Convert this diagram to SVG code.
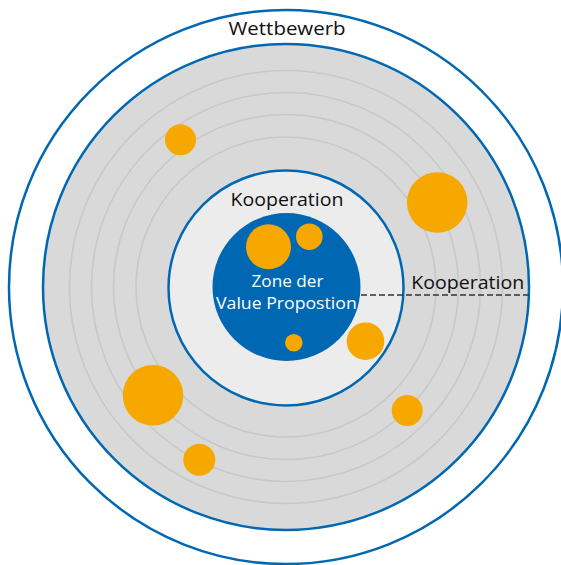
<svg xmlns="http://www.w3.org/2000/svg" width="561" height="565" viewBox="0 0 561 565">
<style>
.ring{fill:none;stroke:#c8c8c8;stroke-width:1.6}
.blue{stroke:#0068b3;stroke-width:2.5}
.dot{fill:#f6a800}
.lbl{font-family:"Open Sans","DejaVu Sans","Liberation Sans",sans-serif;font-weight:500;font-size:18px;fill:#111}
.wlbl{font-family:"Open Sans","DejaVu Sans","Liberation Sans",sans-serif;font-weight:500;font-size:17px;fill:#fff}
</style>
<rect width="561" height="565" fill="#fff"/>
<g id="wettbewerb">
<circle cx="286" cy="287" r="277" fill="#fff" class="blue"/>
<text class="lbl" x="287" y="34.5" text-anchor="middle" textLength="117" lengthAdjust="spacingAndGlyphs">Wettbewerb</text>
</g>
<g id="markt">
<circle cx="286" cy="287" r="243" fill="#d9d9d9" class="blue"/>
<circle cx="286" cy="287" r="216.5" class="ring"/>
<circle cx="286" cy="287" r="194.5" class="ring"/>
<circle cx="286" cy="287" r="172.5" class="ring"/>
<circle cx="286" cy="287" r="150" class="ring"/>
</g>
<g id="kooperation">
<circle cx="286" cy="288" r="117.5" fill="#ececec" class="blue"/>
<text class="lbl" x="287" y="206" text-anchor="middle" textLength="113" lengthAdjust="spacingAndGlyphs">Kooperation</text>
</g>
<g id="zone">
<circle cx="286.5" cy="287" r="74" fill="#0068b3"/>
<text class="wlbl" x="287.5" y="286.7" text-anchor="middle" textLength="72" lengthAdjust="spacingAndGlyphs">Zone der</text>
<text class="wlbl" x="286.4" y="309.3" text-anchor="middle" textLength="140.7" lengthAdjust="spacingAndGlyphs">Value Propostion</text>
</g>
<g id="connectors">
<line x1="361" y1="295" x2="529" y2="295" stroke="#333" stroke-width="1.6" stroke-dasharray="6,3"/>
</g>
<g id="kooperation-label">
<text class="lbl" x="467.7" y="289.3" text-anchor="middle" textLength="113" lengthAdjust="spacingAndGlyphs">Kooperation</text>
</g>
<g id="akteure">
<circle class="dot" cx="180.5" cy="139.7" r="15.5"/>
<circle class="dot" cx="437.2" cy="202.5" r="30.3"/>
<circle class="dot" cx="268.5" cy="246.8" r="22.5"/>
<circle class="dot" cx="309.3" cy="236.7" r="13.3"/>
<circle class="dot" cx="365.5" cy="341.2" r="18.8"/>
<circle class="dot" cx="293.8" cy="342.8" r="8.8"/>
<circle class="dot" cx="153" cy="395.3" r="30.3"/>
<circle class="dot" cx="407.2" cy="410.5" r="15.5"/>
<circle class="dot" cx="199.3" cy="459.8" r="16"/>
</g>
</svg>
